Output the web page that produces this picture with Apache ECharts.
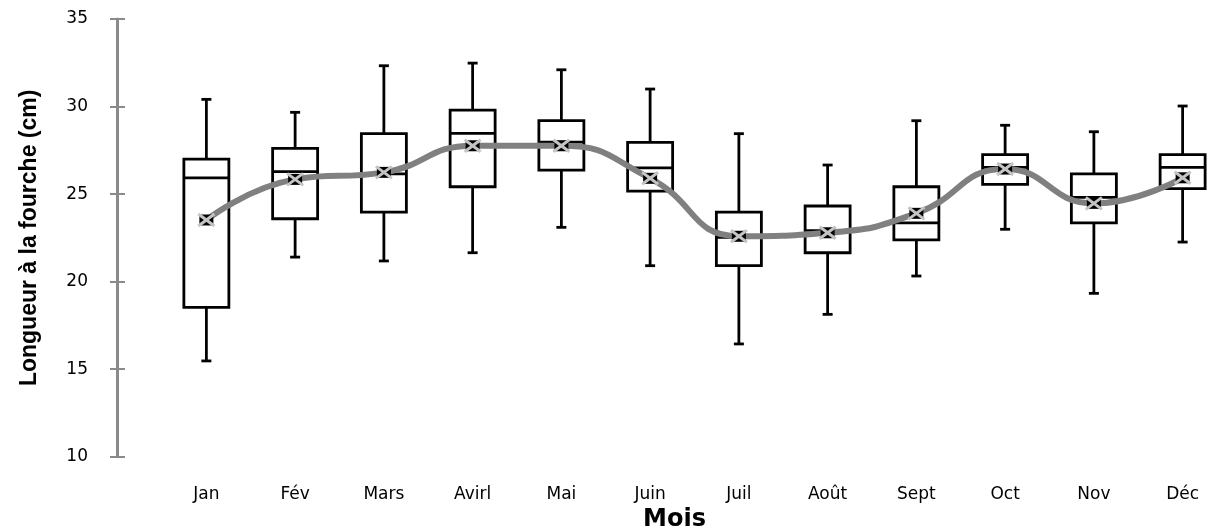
<!DOCTYPE html>
<html>
<head>
<meta charset="utf-8">
<script src="https://cdn.jsdelivr.net/npm/echarts@6/dist/echarts.min.js"></script>
<style>html,body{margin:0;padding:0;background:#fff}#c{width:1215px;height:528px}</style>
</head>
<body>
<div id="c"></div>
<script>
var categories = ['Jan','Fév','Mars','Avirl','Mai','Juin','Juil','Août','Sept','Oct','Nov','Déc'];
var whiskerLow  = [15.47, 21.40, 21.18, 21.65, 23.10, 20.91, 16.44, 18.13, 20.32, 22.99, 19.33, 22.26];
var q1          = [18.53, 23.59, 23.97, 25.42, 26.37, 25.17, 20.91, 21.65, 22.38, 25.56, 23.36, 25.31];
var median      = [25.92, 26.28, 26.15, 28.47, 27.97, 26.50, 22.53, 22.91, 23.36, 26.53, 24.81, 26.53];
var q3          = [27.00, 27.61, 28.45, 29.80, 29.19, 27.95, 23.97, 24.32, 25.42, 27.25, 26.15, 27.25];
var whiskerHigh = [30.41, 29.67, 32.33, 32.48, 32.10, 31.00, 28.45, 26.66, 29.19, 28.93, 28.56, 30.03];
var mean        = [23.52, 25.84, 26.24, 27.76, 27.76, 25.90, 22.59, 22.79, 23.90, 26.43, 24.47, 25.93];
var yTicks = {min: 10, max: 35, interval: 5};

var boxData = categories.map(function (c, i) {
  return [i, whiskerLow[i], q1[i], median[i], q3[i], whiskerHigh[i]];
});
var meanData = categories.map(function (c, i) { return [i, mean[i]]; });

var chart = echarts.init(document.getElementById('c'));
var BW = 45, CAP = 10, LW = 2.8;
chart.setOption({
  animation: false,
  grid: {left: 162, top: 19, width: 1065, height: 437.7, containLabel: false, outerBoundsMode: 'none'},
  xAxis: {
    type: 'category', data: categories, boundaryGap: true,
    axisLine: {show: false}, axisTick: {show: false},
    axisLabel: {fontFamily: 'DejaVu Sans', fontSize: 17, color: '#000', margin: 29},
    name: 'Mois', nameLocation: 'middle', nameGap: 43,
    nameTextStyle: {fontFamily: 'DejaVu Sans', fontWeight: 'bold', fontSize: 24, color: '#000', padding: [0, 40, 0, 0]}
  },
  yAxis: [{
    type: 'value', min: yTicks.min, max: yTicks.max, interval: yTicks.interval, offset: 45,
    axisLine: {show: true, lineStyle: {color: '#8a8a8a', width: 3}},
    axisTick: {show: true, length: 7, lineStyle: {color: '#8a8a8a', width: 2}},
    splitLine: {show: false},
    axisLabel: {fontFamily: 'DejaVu Sans', fontSize: 17, color: '#000', margin: 29},
    name: 'Longueur à la fourche (cm)', nameLocation: 'middle', nameGap: 76,
    nameTextStyle: {fontFamily: 'Liberation Sans', fontWeight: 'bold', fontSize: 23, color: '#000'}
  }, {
    type: 'value', min: yTicks.min, max: yTicks.max, interval: yTicks.interval, offset: 45, position: 'left',
    axisLine: {show: false},
    axisTick: {show: true, inside: true, length: 8, lineStyle: {color: '#8a8a8a', width: 2}},
    splitLine: {show: false}, axisLabel: {show: false}
  }],
  series: [{
    type: 'custom', z: 2,
    data: boxData,
    encode: {x: 0, y: [1, 2, 3, 4, 5]},
    renderItem: function (params, api) {
      var x = api.value(0);
      var pLow = api.coord([x, api.value(1)]);
      var pQ1 = api.coord([x, api.value(2)]);
      var pMed = api.coord([x, api.value(3)]);
      var pQ3 = api.coord([x, api.value(4)]);
      var pHigh = api.coord([x, api.value(5)]);
      var cx = pMed[0];
      var ls = {stroke: '#000', lineWidth: LW};
      return {type: 'group', children: [
        {type: 'line', shape: {x1: cx, y1: pHigh[1], x2: cx, y2: pQ3[1]}, style: ls},
        {type: 'line', shape: {x1: cx, y1: pQ1[1], x2: cx, y2: pLow[1]}, style: ls},
        {type: 'line', shape: {x1: cx - CAP / 2, y1: pHigh[1], x2: cx + CAP / 2, y2: pHigh[1]}, style: ls},
        {type: 'line', shape: {x1: cx - CAP / 2, y1: pLow[1], x2: cx + CAP / 2, y2: pLow[1]}, style: ls},
        {type: 'rect', shape: {x: cx - BW / 2, y: pQ3[1], width: BW, height: pQ1[1] - pQ3[1]},
          style: {fill: '#fff', stroke: '#000', lineWidth: LW}},
        {type: 'line', shape: {x1: cx - BW / 2, y1: pMed[1], x2: cx + BW / 2, y2: pMed[1]}, style: ls}
      ]};
    }
  }, {
    type: 'line', z: 3, data: mean, smooth: 0.5, symbol: 'none',
    lineStyle: {color: '#808080', width: 6}
  }, {
    type: 'custom', z: 4, data: meanData,
    encode: {x: 0, y: 1},
    renderItem: function (params, api) {
      var p = api.coord([api.value(0), api.value(1)]);
      var gs = {stroke: '#c4c4c4', lineWidth: 3};
      return {type: 'group', children: [
        {type: 'rect', shape: {x: p[0] - 7, y: p[1] - 5.5, width: 14, height: 11}, style: {fill: '#000'}},
        {type: 'line', shape: {x1: p[0] - 8, y1: p[1] - 6, x2: p[0] + 8, y2: p[1] + 6}, style: gs},
        {type: 'line', shape: {x1: p[0] - 8, y1: p[1] + 6, x2: p[0] + 8, y2: p[1] - 6}, style: gs}
      ]};
    }
  }]
});
</script>
</body>
</html>
